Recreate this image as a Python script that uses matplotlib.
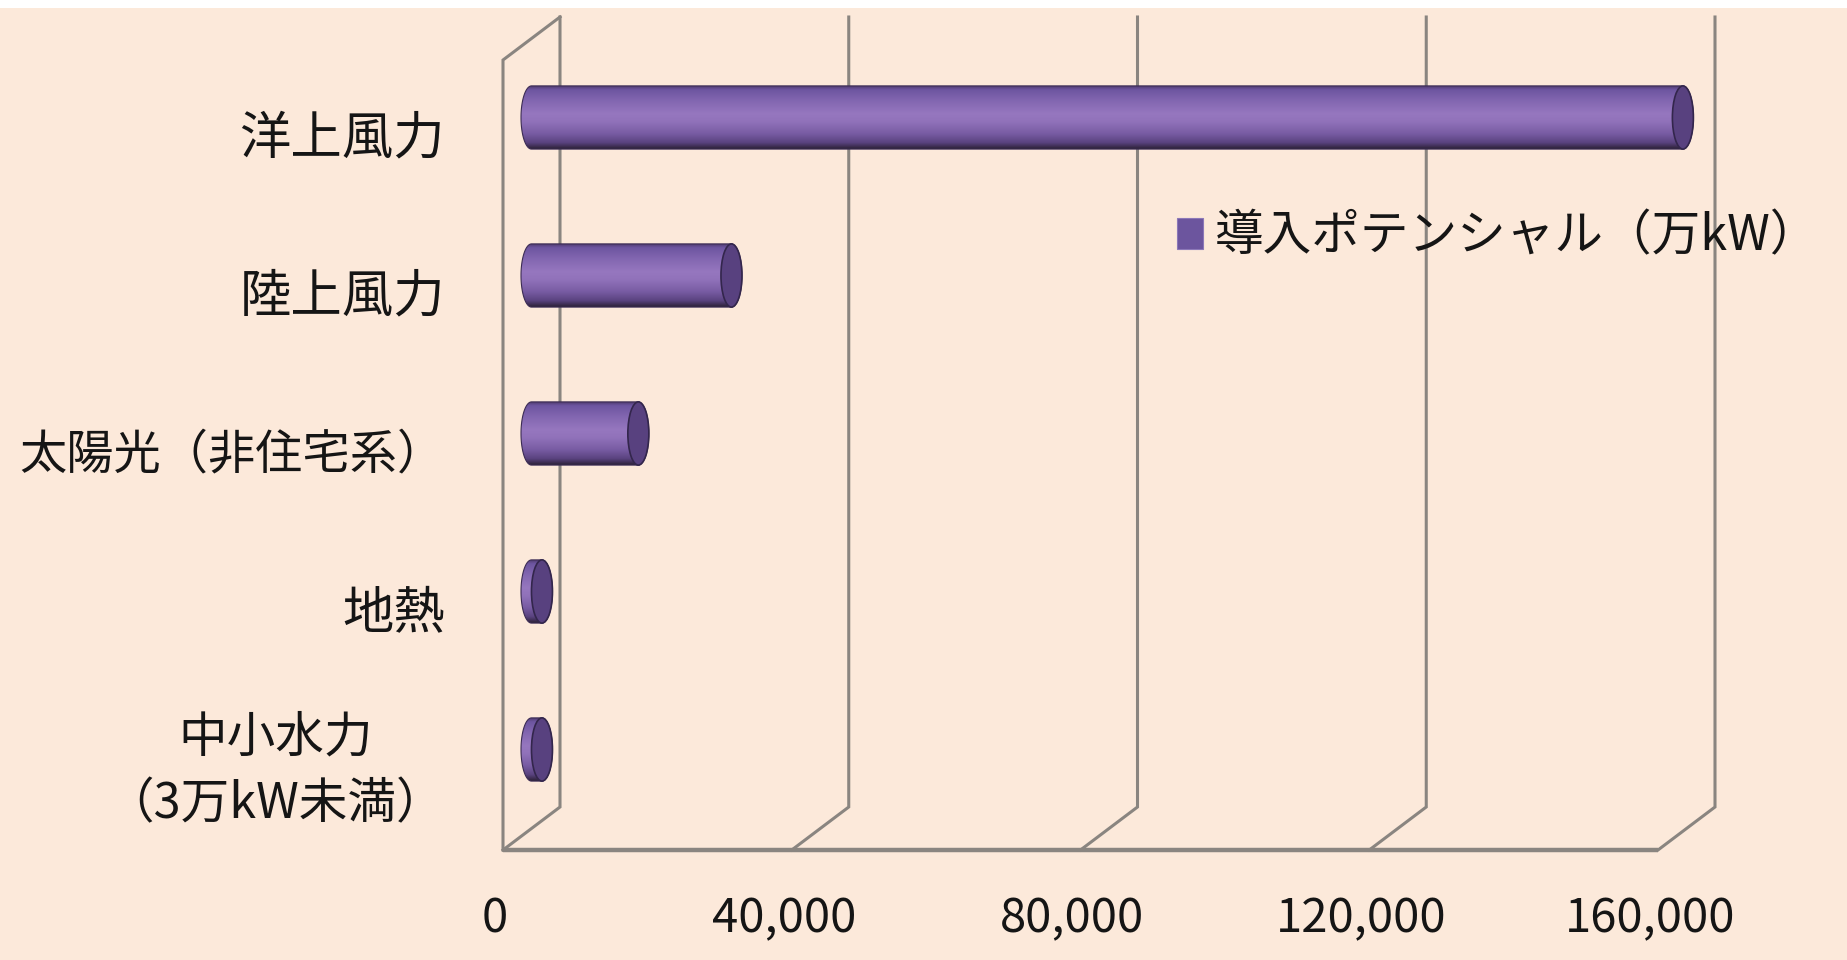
import numpy as np
import matplotlib
matplotlib.use("Agg")
import matplotlib.pyplot as plt
from matplotlib.patches import Ellipse, Polygon, Patch, Rectangle
from matplotlib.colors import LinearSegmentedColormap

plt.rcParams['font.family'] = ['Noto Sans CJK JP', 'DejaVu Sans']

# ---- data -------------------------------------------------------------
categories = ["洋上風力", "陸上風力", "太陽光（非住宅系）", "地熱", "中小水力\n（3万kW未満）"]
potential = [159500, 27700, 14800, 1450, 1450]          # 万kW
x_ticks = [0, 40000, 80000, 120000, 160000]
x_tick_labels = ["0", "40,000", "80,000", "120,000", "160,000"]
series_name = "導入ポテンシャル（万kW）"

# ---- styling / layout -------------------------------------------------
label_sizes = [37, 37, 34, 37, 35]
BG = '#FCE9DA'
GRID = '#8A8580'
TEXT = '#151515'
W, H, DPI = 1847, 960, 100

ZERO_PX, FULL_PX = 531.5, 1686.5      # value 0 / 160,000 on the middle depth plane
TOP_PX, BOTTOM_PX = 38.5, 828.5       # top / bottom of the middle depth plane
DEPTH_PX = (57, 43)                   # front-to-back shift of the 3-D box
XMAX = 160000
n = len(categories)

fig = plt.figure(figsize=(W / DPI, H / DPI), dpi=DPI)
fig.patch.set_facecolor(BG)

ppx = (FULL_PX - ZERO_PX) / XMAX
ppy = (BOTTOM_PX - TOP_PX) / n
ax = fig.add_axes([0, 0, 1, 1])
xlim = (-ZERO_PX / ppx, (W - ZERO_PX) / ppx)
ylim = ((BOTTOM_PX - H) / ppy, BOTTOM_PX / ppy)
ax.set_xlim(xlim)
ax.set_ylim(ylim)
ax.axis('off')

ddx = DEPTH_PX[0] / ppx
ddy = DEPTH_PX[1] / ppy


def at_depth(x, y, d):
    """d = +0.5 back wall, 0 middle plane, -0.5 front edge."""
    return x + d * ddx, y + d * ddy


# ---- box: back wall gridlines, floor, left wall ----------------------
for v in x_ticks:
    bx, bt = at_depth(v, n, 0.5)
    _, bb = at_depth(v, 0, 0.5)
    fx, fb = at_depth(v, 0, -0.5)
    ax.plot([bx, bx, fx], [bt, bb, fb], color=GRID, lw=2.2,
            solid_joinstyle='miter', zorder=1)

f0x, f0y = at_depth(0, 0, -0.5)
f1x, _ = at_depth(XMAX, 0, -0.5)
ax.plot([f0x, f1x], [f0y, f0y], color=GRID, lw=3.2, solid_capstyle='butt', zorder=1)

ftx, fty = at_depth(0, n, -0.5)
btx, bty = at_depth(0, n, 0.5)
ax.plot([f0x, ftx, btx], [f0y, fty, bty], color=GRID, lw=2.2,
        solid_joinstyle='miter', zorder=1)

# ---- cylinders --------------------------------------------------------
cyl = LinearSegmentedColormap.from_list('cyl', [
    (0.00, '#4A3766'), (0.07, '#6D55A0'), (0.25, '#8367B1'),
    (0.45, '#9677BF'), (0.57, '#9172BA'), (0.76, '#785CA3'),
    (0.90, '#5A4380'), (1.00, '#2C2136')])
grad = np.linspace(0, 1, 256).reshape(-1, 1)
rx = 10.5 / ppx           # horizontal radius of the end ellipses
half = 0.2                # half bar thickness (gap width 150%)
ypos = [n - 0.5 - i for i in range(n)]

t_left = np.linspace(np.pi / 2, 3 * np.pi / 2, 60)
t_right = np.linspace(-np.pi / 2, np.pi / 2, 60)
for y, v in zip(ypos, potential):
    xs = np.concatenate([rx * np.cos(t_left), v + rx * np.cos(t_right)])
    ys = np.concatenate([y + half * np.sin(t_left), y + half * np.sin(t_right)])
    body = Polygon(np.column_stack([xs, ys]), closed=True, facecolor='none',
                   edgecolor='#3C2C55', lw=0.8, zorder=4)
    ax.add_patch(body)
    im = ax.imshow(grad, cmap=cyl, extent=[-rx, v + rx, y - half, y + half],
                   origin='upper', aspect='auto', interpolation='bilinear', zorder=3)
    im.set_clip_path(body)
    ax.add_patch(Ellipse((v, y), 2 * rx, 2 * half, facecolor='#58417F',
                         edgecolor='#33264C', lw=1.2, zorder=5))

ax.set_xlim(xlim)
ax.set_ylim(ylim)

# ---- labels -----------------------------------------------------------
for y, lab, fs in zip(ypos, categories, label_sizes):
    ax.annotate(lab, xy=at_depth(0, y, -0.5), xytext=(-58, 0),
                textcoords='offset pixels', ha='right', va='center',
                multialignment='center', linespacing=1.45,
                fontsize=fs, color=TEXT, zorder=6)

for v, lab in zip(x_ticks, x_tick_labels):
    ax.annotate(lab, xy=at_depth(v, 0, -0.5), xytext=(-8, -69),
                textcoords='offset pixels', ha='center', va='center',
                fontsize=34, color=TEXT, zorder=6)

handle = Patch(facecolor='#6C559E', edgecolor='#8C78B8', lw=0.8)
fig.legend([handle], [series_name], loc='center left',
           bbox_to_anchor=(1177 / W, 1 - 237 / H), frameon=False,
           fontsize=35, handlelength=0.53, handleheight=0.62,
           handletextpad=0.25, borderpad=0, borderaxespad=0,
           labelcolor=TEXT)

# thin white margin along the top edge
fig.add_artist(Rectangle((0, 1 - 8 / H), 1, 8 / H, transform=fig.transFigure,
                         facecolor='white', edgecolor='none', zorder=10))

fig.savefig('out.png', dpi=DPI, facecolor=BG)
